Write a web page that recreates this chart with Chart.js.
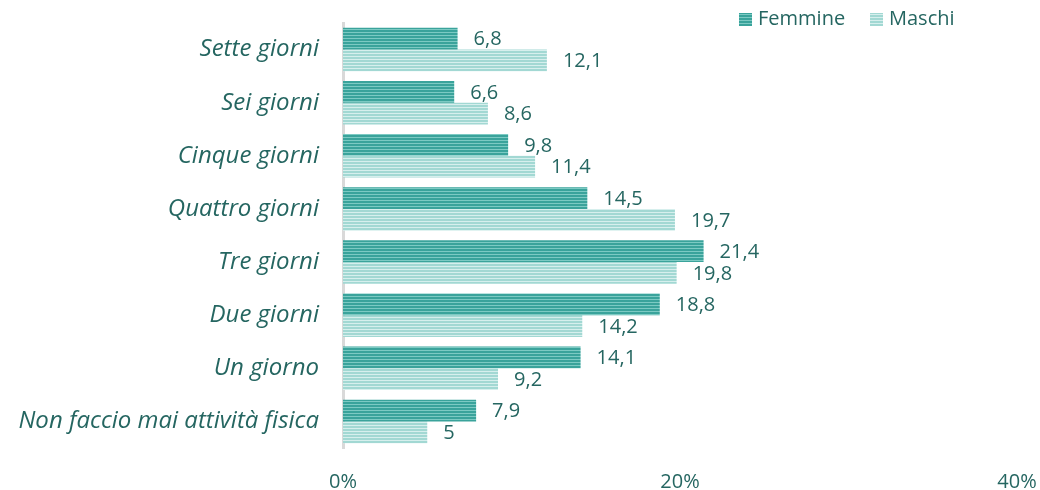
<!DOCTYPE html>
<html>
<head>
<meta charset="utf-8">
<script src="https://cdn.jsdelivr.net/npm/chart.js@4.4.0/dist/chart.umd.min.js"></script>
<style>
    html, body { margin: 0; padding: 0; background: #fff; }
    #wrap { width: 1040px; height: 490px; }
</style>
</head>
<body>
<div id="wrap"><canvas id="chart" width="1040" height="490"></canvas></div>
<script>
// data
const categories = ['Sette giorni', 'Sei giorni', 'Cinque giorni', 'Quattro giorni', 'Tre giorni', 'Due giorni', 'Un giorno', 'Non faccio mai attività fisica'];
const femmine = [6.8, 6.6, 9.8, 14.5, 21.4, 18.8, 14.1, 7.9];
const maschi = [12.1, 8.6, 11.4, 19.7, 19.8, 14.2, 9.2, 5];
const xTicks = [0, 20, 40];

const textColor = '#256661';
const fontFamily = '"Open Sans", sans-serif';

// striped fill like the original
function stripes(dark, light) {
    const c = document.createElement('canvas');
    c.width = 4; c.height = 3;
    const g = c.getContext('2d');
    g.fillStyle = dark; g.fillRect(0, 0, 4, 2);
    g.fillStyle = light; g.fillRect(0, 2, 4, 1);
    return g.createPattern(c, 'repeat');
}
const femFill = stripes('#3aa39b', '#7ccac3');
const masFill = stripes('#a2d8d3', '#d6efed');

// value labels at bar ends
const valueLabels = {
    id: 'valueLabels',
    afterDatasetsDraw(chart) {
        const ctx = chart.ctx;
        ctx.save();
        ctx.font = '20px ' + fontFamily;
        ctx.fillStyle = textColor;
        ctx.textBaseline = 'middle';
        ctx.textAlign = 'left';
        chart.data.datasets.forEach((ds, i) => {
            chart.getDatasetMeta(i).data.forEach((bar, j) => {
                ctx.fillText(String(ds.data[j]).replace('.', ','), bar.x + 16, bar.y + 1);
            });
        });
        ctx.restore();
    }
};

// legend drawn by hand (top right)
const topLegend = {
    id: 'topLegend',
    afterDraw(chart) {
        const ctx = chart.ctx;
        const items = [
            { label: 'Femmine', fill: femFill, x: 739 },
            { label: 'Maschi', fill: masFill, x: 870 }
        ];
        ctx.save();
        ctx.font = '20px ' + fontFamily;
        ctx.textBaseline = 'middle';
        items.forEach(it => {
            ctx.fillStyle = it.fill;
            ctx.fillRect(it.x, 13, 13, 13);
            ctx.fillStyle = textColor;
            ctx.fillText(it.label, it.x + 19, 19);
        });
        ctx.restore();
    }
};

new Chart(document.getElementById('chart'), {
    type: 'bar',
    data: {
        labels: categories,
        datasets: [
            { label: 'Femmine', data: femmine, backgroundColor: femFill, barPercentage: 1, categoryPercentage: 0.82 },
            { label: 'Maschi', data: maschi, backgroundColor: masFill, barPercentage: 1, categoryPercentage: 0.82 }
        ]
    },
    options: {
        indexAxis: 'y',
        responsive: false,
        animation: false,
        layout: { padding: { top: 23, right: 23, left: 0, bottom: 0 } },
        plugins: {
            legend: { display: false },
            tooltip: { enabled: false }
        },
        scales: {
            x: {
                min: 0,
                max: 40,
                afterBuildTicks: axis => { axis.ticks = xTicks.map(v => ({ value: v })); },
                afterFit: axis => { axis.height = 42; axis.paddingLeft = 0; axis.paddingRight = 0; },
                grid: { display: false },
                border: { display: false },
                ticks: {
                    color: textColor,
                    font: { family: fontFamily, size: 20 },
                    padding: 14,
                    maxRotation: 0,
                    callback: v => v + '%'
                }
            },
            y: {
                afterFit: axis => { axis.width = 343; axis.paddingTop = 0; axis.paddingBottom = 0; },
                grid: { display: false, drawTicks: false },
                border: { display: true, color: '#d9d9d9', width: 3 },
                ticks: {
                    color: textColor,
                    font: { family: fontFamily, size: 24, style: 'italic' },
                    padding: 24
                }
            }
        }
    },
    plugins: [valueLabels, topLegend]
});
</script>
</body>
</html>
